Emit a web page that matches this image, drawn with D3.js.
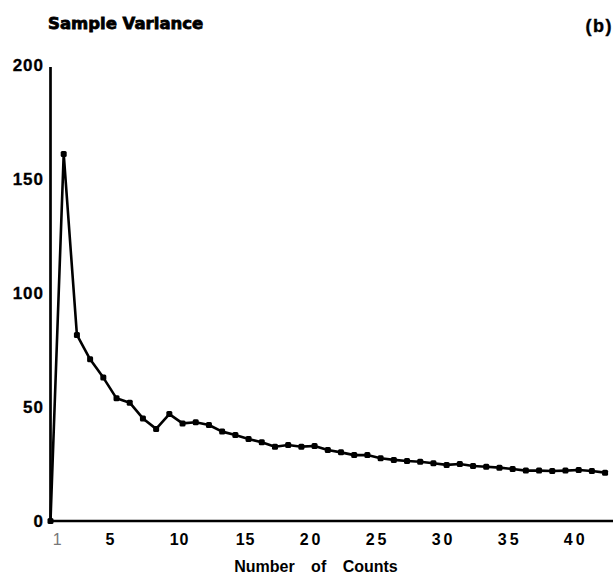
<!DOCTYPE html>
<html>
<head>
<meta charset="utf-8">
<script src="https://cdn.jsdelivr.net/npm/d3@7"></script>
<style>
  html, body { margin: 0; padding: 0; background: #fff; }
  svg { display: block; }
</style>
</head>
<body>
<svg id="chart" width="615" height="575"></svg>
<script>
// ---- data ----
const counts = [0,1,2,3,4,5,6,7,8,9,10,11,12,13,14,15,16,17,18,19,20,
                21,22,23,24,25,26,27,28,29,30,31,32,33,34,35,36,37,38,39,40,41,42];
const variance = [0,161,81.6,70.9,62.9,53.8,51.9,45.0,40.4,46.9,42.8,43.3,42.1,39.2,37.7,36.0,
                  34.5,32.6,33.3,32.6,32.9,31.1,30.1,28.9,28.9,27.5,26.8,26.3,26.0,25.3,24.6,
                  25.0,24.1,23.8,23.4,22.8,22.1,22.1,21.9,22.1,22.4,21.9,21.2];
const xTicks = [1,5,10,15,20,25,30,35,40];
const yTicks = [0,50,100,150,200];
const titleText = "Sample Variance";
const panelText = "(b)";
const xTitleWords = ["Number","of","Counts"];

const svg = d3.select("#chart");
const x = d3.scaleLinear().domain([0, 42.6]).range([50.5, 613]);
const y = d3.scaleLinear().domain([0, 200]).range([521, 65]);

// axes lines
svg.append("line").attr("x1", x(0)).attr("x2", x(0)).attr("y1", y(0)+1).attr("y2", y(200)+2)
  .attr("stroke", "#000").attr("stroke-width", 2.7);
svg.append("line").attr("x1", x(0)-1).attr("x2", x(42.6)).attr("y1", y(0)).attr("y2", y(0))
  .attr("stroke", "#000").attr("stroke-width", 2.5);

// y tick labels
svg.append("g").selectAll("text").data(yTicks).join("text")
  .attr("x", 44).attr("y", d => y(d)).attr("dy", "0.36em")
  .attr("text-anchor", "end")
  .attr("font-family", "Liberation Sans, Arial, sans-serif")
  .attr("font-weight", "bold").attr("font-size", 17)
  .attr("letter-spacing", 1)
  .attr("stroke", "#000").attr("stroke-width", 0.3)
  .text(d => d);

// x tick labels
svg.append("g").selectAll("text").data(xTicks).join("text")
  .attr("x", d => x(d) - (d < 10 ? 6 : 3)).attr("y", 545)
  .attr("text-anchor", "middle")
  .attr("font-family", "Liberation Sans, Arial, sans-serif")
  .attr("font-weight", d => d === 1 ? "normal" : "bold")
  .attr("fill", d => d === 1 ? "#777" : "#000")
  .attr("font-size", 16)
  .attr("letter-spacing", d => d >= 20 ? 3 : 1)
  .text(d => d);

// x axis title
svg.append("text")
  .attr("x", 316).attr("y", 572).attr("text-anchor", "middle")
  .attr("font-family", "Liberation Sans, Arial, sans-serif")
  .attr("font-weight", "bold").attr("font-size", 16)
  .attr("word-spacing", 12)
  .text(xTitleWords.join(" "));

// title and panel label
svg.append("text").attr("x", 48).attr("y", 29)
  .attr("font-family", "DejaVu Sans, sans-serif").attr("font-weight", "bold")
  .attr("stroke", "#000").attr("stroke-width", 0.8)
  .attr("font-size", 16.5).text(titleText);
svg.append("text").attr("x", 613).attr("y", 32).attr("text-anchor", "end")
  .attr("font-family", "Liberation Sans, Arial, sans-serif").attr("font-weight", "bold")
  .attr("stroke", "#000").attr("stroke-width", 0.4)
  .attr("font-size", 18).attr("letter-spacing", 1.5).text(panelText);

// data line
const pts = counts.map((c, i) => [c, variance[i]]);
svg.append("path").datum(pts)
  .attr("fill", "none").attr("stroke", "#000").attr("stroke-width", 2.6)
  .attr("stroke-linejoin", "round")
  .attr("d", d3.line().x(d => x(d[0])).y(d => y(d[1])));

svg.append("g").selectAll("rect").data(pts).join("rect")
  .attr("x", d => x(d[0]) - 3).attr("y", d => y(d[1]) - 3)
  .attr("width", 6).attr("height", 6).attr("rx", 1.5)
  .attr("fill", "#000");
</script>
</body>
</html>
